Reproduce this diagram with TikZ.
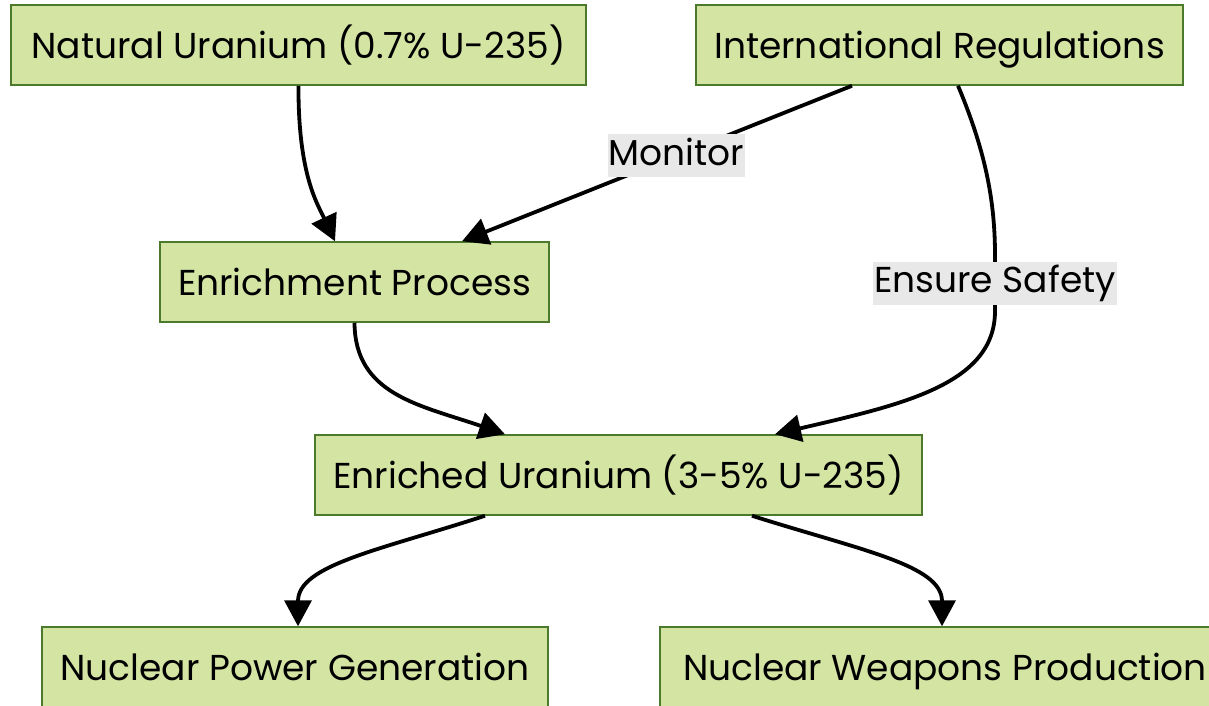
\documentclass[tikz,border=0pt]{standalone}
\usepackage{fontspec}
\setmainfont{Poppins}
\usetikzlibrary{arrows.meta}
\definecolor{nodefill}{HTML}{D3E4A3}
\definecolor{nodeline}{HTML}{4B7A2C}
\definecolor{lblbg}{HTML}{E8E8E8}
\begin{document}
\begin{tikzpicture}[x=1pt,y=-1pt,
  box/.style={draw=nodeline, fill=nodefill, line width=1.5pt, minimum height=80pt, inner sep=0pt, font=\fontsize{36}{43}\selectfont, text=black, text height=31pt, text depth=5pt},
  conn/.style={line width=3.8pt, -{Triangle[length=26pt,width=27pt]}},
  lbl/.style={fill=lblbg, inner xsep=1pt, inner ysep=0pt, font=\fontsize{36}{43}\selectfont, text=black, text height=31pt, text depth=12pt}]
\useasboundingbox (0,0) rectangle (1209,705);
\clip (0,0) rectangle (1209,705);
\node[box, minimum width=575pt] (n1) at (298.5,45) {Natural Uranium (0.7\% U-235)};
\node[box, minimum width=487pt] (ir) at (939.5,45) {International Regulations};
\node[box, minimum width=389pt] (ep) at (354.5,282) {Enrichment Process};
\node[box, minimum width=607pt] (eu) at (618.5,475) {Enriched Uranium (3-5\% U-235)};
\node[box, minimum width=506pt] (npg) at (295,667) {Nuclear Power Generation};
\node[box, minimum width=570pt] (nwp) at (945,667) {Nuclear Weapons Production};
\draw[conn] (n1.south) .. controls (298,175) and (318,205) .. ([xshift=-19.5pt]ep.north);
\draw[conn] ([xshift=-87.5pt]ir.south) -- node[lbl, pos=0.45] {Monitor} ([xshift=107.5pt]ep.north);
\draw[conn] ([xshift=18.5pt]ir.south) .. controls (985,150) and (995,200) .. (995,255)
  -- node[lbl] {Ensure Safety} (995,311)
  .. controls (995,385) and (900,405) .. ([xshift=156.5pt]eu.north);
\draw[conn] (ep.south) .. controls (355,395) and (420,405) .. ([xshift=-113.5pt]eu.north);
\draw[conn] ([xshift=-133.5pt]eu.south) .. controls (380,550) and (298,565) .. ([xshift=3pt]npg.north);
\draw[conn] ([xshift=133.5pt]eu.south) .. controls (860,550) and (942,565) .. ([xshift=-3pt]nwp.north);
\end{tikzpicture}
\end{document}
